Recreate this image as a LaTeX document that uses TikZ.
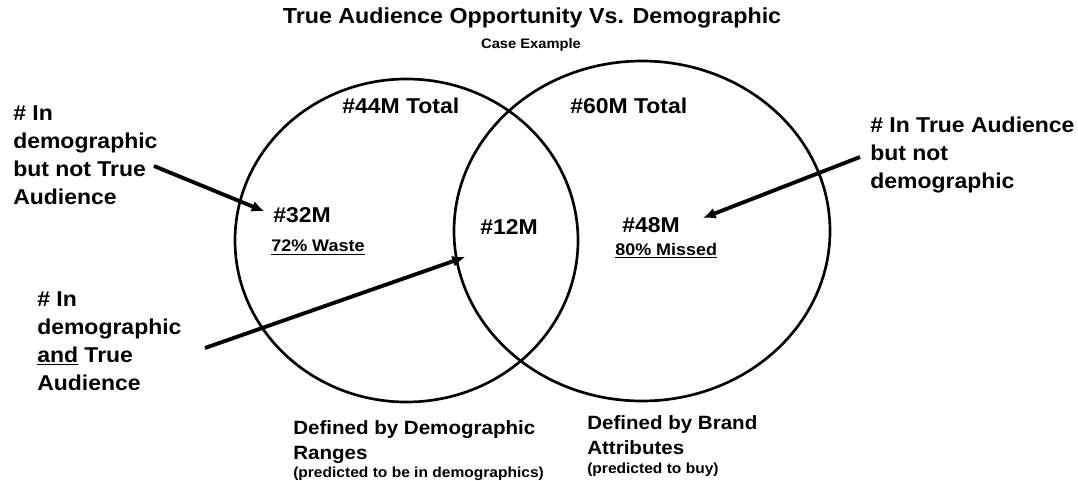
\documentclass[tikz,border=0pt]{standalone}
\usepackage{fontspec}
\setmainfont{Liberation Sans}[FakeStretch=1.07]
\usetikzlibrary{arrows.meta}

\begin{document}
\begin{tikzpicture}[x=0.75pt,y=-0.75pt,
  lab/.style={inner sep=0pt, anchor=north west, align=left,
    font=\fontsize{16.1pt}{21pt}\selectfont\bfseries},
  num/.style={inner sep=0pt, anchor=north west,
    font=\fontsize{16.1pt}{21pt}\selectfont\bfseries},
  pct/.style={inner sep=0pt, anchor=north west,
    font=\fontsize{12.6pt}{15pt}\selectfont\bfseries},
  deflab/.style={inner sep=0pt, anchor=north west, align=left,
    font=\fontsize{14.4pt}{18.75pt}\selectfont\bfseries},
  defsmall/.style={inner sep=0pt, anchor=base west,
    font=\fontsize{10.9pt}{13pt}\selectfont\bfseries},
  ring/.style={draw=black, line width=2pt},
  arr/.style={line width=2.9pt, -{Latex[length=9.5pt,width=8.5pt]}}]

% canvas
\fill[white] (0,0) rectangle (1078,481);
\useasboundingbox (0,0) rectangle (1078,481);

% headings
\node[inner sep=0pt, anchor=mid, font=\fontsize{16.3pt}{20pt}\selectfont\bfseries]
  (title) at (532,20) {True Audience Opportunity Vs. Demographic};
\node[inner sep=0pt, anchor=mid, font=\fontsize{10.3pt}{12pt}\selectfont\bfseries]
  (case) at (531,45) {Case Example};

% the two audience sets
\draw[ring] (406.5,240.5) ellipse [x radius=171.5, y radius=161.5];
\draw[ring] (642,231) ellipse [x radius=188, y radius=170];

% totals
\node[num] (tot44) at (342,98) {\#44M Total};
\node[num] (tot60) at (570,98) {\#60M Total};

% region values
\node[num] (n32) at (273,207) {\#32M};
\node[pct] (waste) at (271,240) {\underline{72\% Waste}};
\node[num] (n12) at (480,219) {\#12M};
\node[num] (n48) at (622,217) {\#48M};
\node[pct] (missed) at (615,243) {\underline{80\% Missed}};

% side labels
\node[lab] (notTrue) at (13,105) {\# In\\demographic\\but not True\\Audience};
\node[lab] (andTrue) at (37,291) {\# In\\demographic\\\underline{and} True\\Audience};
\node[lab] (notDemo) at (870,117) {\# In True Audience\\but not\\demographic};

% set definitions
\node[deflab] (defDemo) at (293,420) {Defined by Demographic\\Ranges};
\node[defsmall] (defDemoS) at (293,477) {(predicted to be in demographics)};
\node[deflab] (defBrand) at (587,415) {Defined by Brand\\Attributes};
\node[defsmall] (defBrandS) at (587,473) {(predicted to buy)};

% pointer arrows
\coordinate (a1s) at (154,166);
\coordinate (a2s) at (205,348);
\coordinate (a2e) at (465,257);
\coordinate (a3s) at (860,157);
\coordinate (a3e) at (703,218);
\draw[arr, shorten >=7pt] (a1s) -- (n32.west);
\draw[arr] (a2s) -- (a2e);
\draw[arr] (a3s) -- (a3e);
\end{tikzpicture}
\end{document}
